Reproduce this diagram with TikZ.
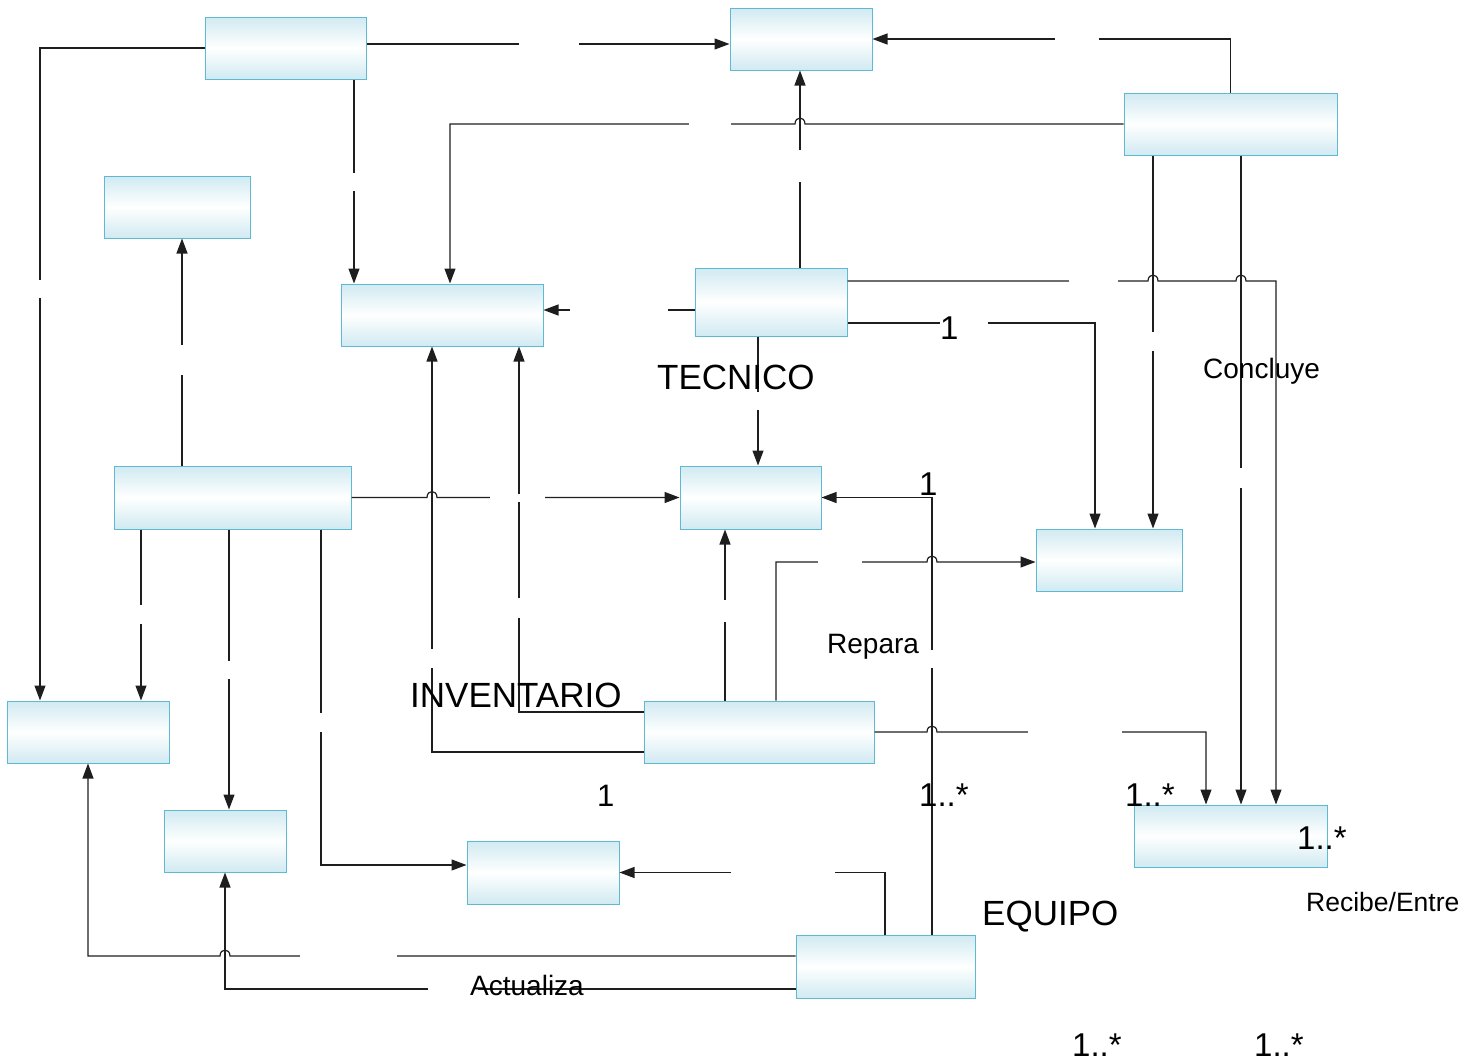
\documentclass[tikz,border=0pt]{standalone}
\usepackage{fontspec}
\setmainfont{Liberation Sans}
\usetikzlibrary{arrows.meta,calc}
\definecolor{boxedge}{RGB}{95,185,210}
\definecolor{boxfill}{RGB}{208,234,241}
\definecolor{linecol}{RGB}{30,30,30}
\newcommand\mkhgap[3]{\fill[gapfill] (#2,#1-4) rectangle (#3,#1+4);}
\newcommand\mkvgap[3]{\fill[gapfill] (#1-4,#2) rectangle (#1+4,#3);}
\newcommand\fs[1]{\fontsize{#1}{#1}\selectfont}
\begin{document}
\begin{tikzpicture}[x=1pt,y=-1pt,
 box/.style={draw=boxedge,line width=1pt,top color=boxfill,bottom color=boxfill,middle color=white,inner sep=0pt,rectangle},
 conn/.style={draw=linecol,line width=1.2pt},
 arr/.style={conn,-{Triangle[length=15pt,width=11pt]}},
 gapfill/.style={fill=white},
 lbl/.style={inner sep=0pt,anchor=base west,text=black},
]
\useasboundingbox (0,0) rectangle (1465,1063);

% boxes
\node[box,minimum width=161pt,minimum height=62pt] (b1) at (285.5,48) {};
\node[box,minimum width=142pt,minimum height=62pt] (b2) at (801,39) {};
\node[box,minimum width=213pt,minimum height=62pt] (b3) at (1230.5,124) {};
\node[box,minimum width=146pt,minimum height=62pt] (b4) at (177,207) {};
\node[box,minimum width=202pt,minimum height=62pt] (b5) at (442,315) {};
\node[box,minimum width=152pt,minimum height=68pt] (b6) at (771,302) {};
\node[box,minimum width=237pt,minimum height=63pt] (b7) at (232.5,497.5) {};
\node[box,minimum width=141pt,minimum height=63pt] (b8) at (750.5,497.5) {};
\node[box,minimum width=146pt,minimum height=62pt] (b9) at (1109,560) {};
\node[box,minimum width=162pt,minimum height=62pt] (b10) at (88,732) {};
\node[box,minimum width=230pt,minimum height=62pt] (b11) at (759,732) {};
\node[box,minimum width=122pt,minimum height=62pt] (b12) at (225,841) {};
\node[box,minimum width=152pt,minimum height=63pt] (b13) at (543,872.5) {};
\node[box,minimum width=193pt,minimum height=62pt] (b14) at (1230.5,836) {};
\node[box,minimum width=179pt,minimum height=63pt] (b15) at (885.5,966.5) {};

% connectors
\draw[arr] (b1.west) -| (b10.north -| 40,0);
\draw[arr] (b1.east |- 0,44) -- (b2.west |- 0,44);
\draw[arr] (b1.south -| 354,0) -- (b5.north -| 354,0);
\draw[arr] (b3.north) |- (b2.east);
\draw[arr] (b3.west) -- (805,124) .. controls (805,116) and (795,116) .. (795,124) -| (b5.north -| 450,0);
\draw[arr] (b6.north -| 800,0) -- (b2.south -| 800,0);
\draw[arr] (b6.west |- 0,310) -- (b5.east |- 0,310);
\draw[arr] (b6.east |- 0,281) -- (1148,281) .. controls (1148,273) and (1158,273) .. (1158,281) -- (1236,281) .. controls (1236,273) and (1246,273) .. (1246,281) -| (b14.north -| 1276,0);
\draw[arr] (b6.east |- 0,323) -| (b9.north -| 1095,0);
\draw[arr] (b6.south -| 758,0) -- (b8.north -| 758,0);
\draw[arr] (b3.south -| 1153,0) -- (b9.north -| 1153,0);
\draw[arr] (b3.south -| 1241,0) -- (b14.north -| 1241,0);
\draw[arr] (b7.north -| 182,0) -- (b4.south -| 182,0);
\draw[arr] (b7.east) -- (427,497.5) .. controls (427,489.5) and (437,489.5) .. (437,497.5) -- (b8.west);
\draw[arr] (b7.south -| 141,0) -- (b10.north -| 141,0);
\draw[arr] (b7.south -| 229,0) -- (b12.north -| 229,0);
\draw[arr] (b7.south -| 321,0) |- (b13.west |- 0,865);
\draw[arr] (b11.west |- 0,752) -| (b5.south -| 432,0);
\draw[arr] (b11.west |- 0,712) -| (b5.south -| 519,0);
\draw[arr] (b11.north -| 725,0) -- (b8.south -| 725,0);
\draw[arr] (b11.north -| 776,0) |- (927,562) .. controls (927,554) and (937,554) .. (937,562) -- (b9.west |- 0,562);
\draw[arr] (b15.north -| 932,0) |- (b8.east);
\draw[arr] (b11.east) -- (927,732) .. controls (927,724) and (937,724) .. (937,732) -| (b14.north -| 1206,0);
\draw[arr] (b15.north -| 885,0) |- (b13.east);
\draw[arr] (b15.west |- 0,956) -- (230,956) .. controls (230,948) and (220,948) .. (220,956) -| (b10.south);
\draw[arr] (b15.west |- 0,989) -| (b12.south);

% gaps left by empty labels
\mkhgap{44}{519}{579}
\mkhgap{39}{1055}{1099}
\mkhgap{124}{689}{731}
\mkhgap{281}{1069}{1118}
\mkhgap{323}{940}{988}
\mkhgap{310}{570}{668}
\mkhgap{497.5}{490}{545}
\mkhgap{562}{818}{862}
\mkhgap{732}{1028}{1122}
\mkhgap{873}{731}{835}
\mkhgap{956}{300}{397}
\mkhgap{989}{428}{478}
\mkvgap{40}{280}{298}
\mkvgap{354}{173}{191}
\mkvgap{800}{150}{182}
\mkvgap{758}{392}{410}
\mkvgap{1153}{332}{351}
\mkvgap{1241}{468}{488}
\mkvgap{182}{345}{375}
\mkvgap{141}{605}{624}
\mkvgap{229}{661}{679}
\mkvgap{321}{713}{732}
\mkvgap{432}{649}{668}
\mkvgap{519}{598}{618}
\mkvgap{725}{600}{622}
\mkvgap{932}{650}{668}

% labels
\node[lbl,font=\fs{35}] (tTec) at (657,389) {TECNICO};
\node[lbl,font=\fs{33}] (tOne1) at (940,339) {1};
\node[lbl,font=\fs{28}] (tConc) at (1203,378) {Concluye};
\node[lbl,font=\fs{33}] (tOne2) at (919,495) {1};
\node[lbl,font=\fs{28}] (tRep) at (827,653) {Repara};
\node[lbl,font=\fs{35}] (tInv) at (410,707) {INVENTARIO};
\node[lbl,font=\fs{31}] (tOne3) at (597,806) {1};
\node[lbl,font=\fs{33}] (tM1) at (919,806) {1..*};
\node[lbl,font=\fs{33}] (tM2) at (1125,806) {1..*};
\node[lbl,font=\fs{33}] (tM3) at (1297,849) {1..*};
\node[lbl,font=\fs{35}] (tEq) at (982,925) {EQUIPO};
\node[lbl,font=\fs{26.5}] (tRec) at (1306,911) {Recibe/Entre};
\node[lbl,font=\fs{28}] (tAct) at (470,995) {Actualiza};
\node[lbl,font=\fs{33}] (tM4) at (1072,1056) {1..*};
\node[lbl,font=\fs{33}] (tM5) at (1254,1056) {1..*};
\end{tikzpicture}
\end{document}
